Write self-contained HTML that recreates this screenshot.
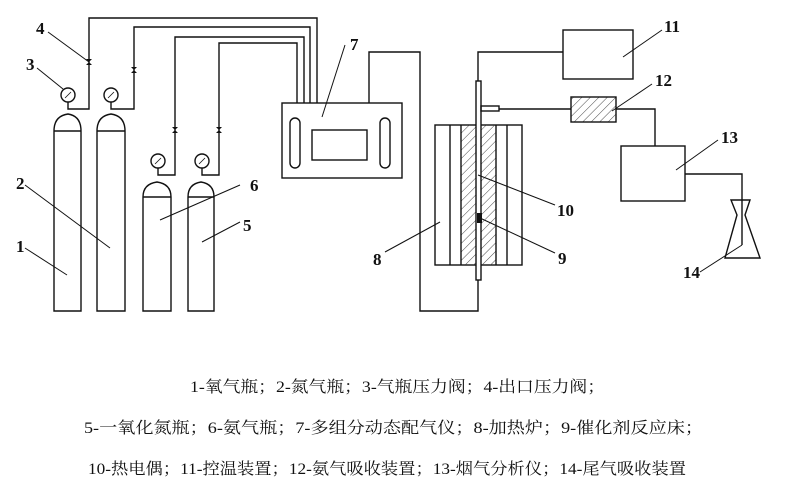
<!DOCTYPE html>
<html><head><meta charset="utf-8"><style>
html,body{margin:0;padding:0;background:#fff;}
svg{display:block;}
text{font-family:"Liberation Serif","Noto Serif CJK SC",serif;fill:#111;}
</style></head><body>
<svg width="789" height="489" viewBox="0 0 789 489" xmlns="http://www.w3.org/2000/svg">
<defs>
<pattern id="h" width="6" height="6" patternUnits="userSpaceOnUse" patternTransform="rotate(45)">
<line x1="0" y1="0" x2="0" y2="6" stroke="#333" stroke-width="0.9"/>
</pattern>
</defs>
<g fill="none" stroke="#111" stroke-width="1.4">
<!-- cylinders -->
<path d="M54,311 V131 Q54,116 68,114 Q81,116 81,131 V311 Z"/><line x1="54" y1="131" x2="81" y2="131"/>
<path d="M97,311 V131 Q97,116 111,114 Q125,116 125,131 V311 Z"/><line x1="97" y1="131" x2="125" y2="131"/>
<path d="M143,311 V197 Q143,184 157,182 Q171,184 171,197 V311 Z"/><line x1="143" y1="197" x2="171" y2="197"/>
<path d="M188,311 V197 Q188,184 201,182 Q214,184 214,197 V311 Z"/><line x1="188" y1="197" x2="214" y2="197"/>
<!-- gauges -->
<circle cx="68" cy="95" r="7"/><circle cx="111" cy="95" r="7"/>
<circle cx="158" cy="161" r="7"/><circle cx="202" cy="161" r="7"/>
<g stroke-width="0.8"><line x1="65" y1="98" x2="71" y2="92"/><line x1="108" y1="98" x2="114" y2="92"/><line x1="155" y1="164" x2="161" y2="158"/><line x1="199" y1="164" x2="205" y2="158"/></g>
<!-- pipes -->
<polyline points="68,102 68,109 89,109 89,18 317,18 317,103"/>
<polyline points="111,102 111,109 134,109 134,27 310,27 310,103"/>
<polyline points="158,168 158,175 175,175 175,37 304,37 304,103"/>
<polyline points="202,168 202,175 219,175 219,43 297,43 297,103"/>
<!-- box 7 -->
<rect x="282" y="103" width="120" height="75"/>
<rect x="290" y="118" width="10" height="50" rx="5"/>
<rect x="380" y="118" width="10" height="50" rx="5"/>
<rect x="312" y="130" width="55" height="30"/>
<polyline points="369,103 369,52 420,52 420,311 478,311 478,280"/>
<!-- furnace -->
<rect x="435" y="125" width="87" height="140"/>
<rect x="461" y="125" width="35" height="140" fill="url(#h)" stroke="none"/>
<line x1="450" y1="125" x2="450" y2="265"/><line x1="461" y1="125" x2="461" y2="265"/>
<line x1="496" y1="125" x2="496" y2="265"/><line x1="507" y1="125" x2="507" y2="265"/>
<rect x="476" y="81" width="5" height="199" fill="#fff"/>
<rect x="481" y="106" width="18" height="5"/>
<polyline points="478,81 478,52 563,52"/>
<rect x="563" y="30" width="70" height="49"/>
<line x1="499" y1="109" x2="571" y2="109"/>
<rect x="571" y="97" width="45" height="25" fill="url(#h)"/>
<polyline points="616,109 655,109 655,146"/>
<rect x="621" y="146" width="64" height="55"/>
<polyline points="685,174 742,174 742,245"/>
<path d="M731,200 H750 L745,215 L760,258 H725 L737,215 Z"/>
<!-- leaders -->
<g stroke-width="1">
<line x1="25" y1="248" x2="67" y2="275"/><line x1="25" y1="185" x2="110" y2="248"/>
<line x1="37" y1="68" x2="63" y2="89"/><line x1="48" y1="32" x2="89" y2="62"/>
<line x1="240" y1="185" x2="160" y2="220"/><line x1="240" y1="222" x2="202" y2="242"/>
<line x1="345" y1="45" x2="322" y2="117"/><line x1="385" y1="252" x2="440" y2="222"/>
<line x1="555" y1="205" x2="478" y2="175"/><line x1="555" y1="253" x2="480" y2="218"/>
<line x1="662" y1="30" x2="623" y2="57"/><line x1="652" y1="84" x2="612" y2="111"/>
<line x1="718" y1="140" x2="676" y2="170"/><line x1="700" y1="272" x2="742" y2="245"/>
</g>
</g>
<!-- valves -->
<g fill="#111">
<path d="M86,59 L92,59 L86,65 L92,65 Z"/><path d="M131,67 L137,67 L131,73 L137,73 Z"/>
<path d="M172,127 L178,127 L172,133 L178,133 Z"/><path d="M216,127 L222,127 L216,133 L222,133 Z"/>
<rect x="477" y="213" width="5" height="10"/>
</g>
<g font-size="17" font-weight="bold">
<text x="16" y="252">1</text><text x="16" y="189">2</text><text x="26" y="70">3</text><text x="36" y="34">4</text>
<text x="243" y="231">5</text><text x="250" y="191">6</text><text x="350" y="50">7</text><text x="373" y="265">8</text>
<text x="558" y="264">9</text><text x="557" y="216">10</text><text x="664" y="32">11</text><text x="655" y="86">12</text>
<text x="721" y="143">13</text><text x="683" y="278">14</text>
</g>
<g font-size="16">
<text x="190" y="392" textLength="415" lengthAdjust="spacingAndGlyphs">1-氧气瓶；2-氮气瓶；3-气瓶压力阀；4-出口压力阀；</text>
<text x="84" y="433" textLength="619" lengthAdjust="spacingAndGlyphs">5-一氧化氮瓶；6-氨气瓶；7-多组分动态配气仪；8-加热炉；9-催化剂反应床；</text>
<text x="88" y="474" textLength="598" lengthAdjust="spacingAndGlyphs">10-热电偶；11-控温装置；12-氨气吸收装置；13-烟气分析仪；14-尾气吸收装置</text>
</g>
</svg>
</body></html>
